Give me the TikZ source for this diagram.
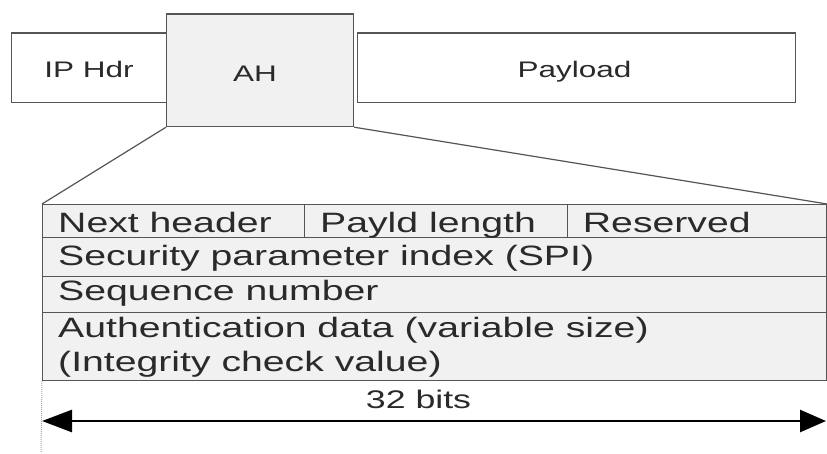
\documentclass[tikz,border=0pt]{standalone}
\usepackage{fontspec}
\setmainfont[FakeStretch=1.4]{Liberation Sans}
\usetikzlibrary{arrows.meta}
\definecolor{edge}{HTML}{555555}
\definecolor{cellfill}{HTML}{F1F1F1}
\definecolor{txt}{HTML}{2A2A2A}
\tikzset{
  box/.style={draw=edge, line width=1.2pt, rectangle, inner sep=0pt, anchor=north west},
  toplabel/.style={anchor=base, inner sep=0pt, text=txt, font=\fontsize{22.5}{26}\selectfont},
  celltext/.style={anchor=base west, inner sep=0pt, text=txt, align=left, font=\fontsize{28}{34}\selectfont},
  link/.style={draw=edge, line width=1.2pt},
}
\begin{document}
\begin{tikzpicture}[x=1pt,y=-1pt]
\useasboundingbox[fill=white] (0,0) rectangle (827,453);
% top packet
\node[box, fill=white, minimum width=155.3pt, minimum height=69.4pt] (ip) at (10.7,32.3) {};
\node[box, fill=white, minimum width=438pt, minimum height=69.4pt] (pl) at (357,32.3) {};
\node[box, fill=cellfill, minimum width=187pt, minimum height=112.7pt] (ah) at (166,13.3) {};
\node[toplabel] (iptxt) at (89,77) {IP Hdr};
\node[toplabel] (ahtxt) at (255,81) {AH};
\node[toplabel] (pltxt) at (574.5,77) {Payload};
% AH header table
\node[box, fill=cellfill, minimum width=262pt, minimum height=33pt] (nh) at (42,204) {};
\node[box, fill=cellfill, minimum width=262.7pt, minimum height=33pt] (plen) at (304,204) {};
\node[box, fill=cellfill, minimum width=259.3pt, minimum height=33pt] (res) at (566.7,204) {};
\node[box, fill=cellfill, minimum width=784pt, minimum height=39pt] (spi) at (42,237) {};
\node[box, fill=cellfill, minimum width=784pt, minimum height=36pt] (seq) at (42,276) {};
\node[box, fill=cellfill, minimum width=784pt, minimum height=68pt] (auth) at (42,312) {};
\node[celltext] (nhtxt) at (58,232) {Next header};
\node[celltext] (plentxt) at (320,232) {Payld length};
\node[celltext] (restxt) at (582.7,232) {Reserved};
\node[celltext] (spitxt) at (58,265) {Security parameter index (SPI)};
\node[celltext] (seqtxt) at (58,300) {Sequence number};
\node[celltext] (authtxt1) at (58,337) {Authentication data (variable size)};
\node[celltext] (authtxt2) at (58,371) {(Integrity check value)};
% expansion lines
\draw[link] (ah.south west) -- (nh.north west);
\draw[link] (ah.south east) -- (res.north east);
% width dimension
\coordinate (dimL) at (42,421);
\coordinate (dimR) at (826,421);
\coordinate (dotEnd) at (41,453);
\draw[gray!70, line width=1pt, densely dotted] (auth.south west) -- (dotEnd);
\draw[black, line width=2.6pt, {Triangle[length=30pt,width=22pt]}-{Triangle[length=26pt,width=22pt]}] (dimL) -- (dimR);
\node[toplabel, font=\fontsize{25.5}{30}\selectfont] (bits) at (418.5,408) {32 bits};
\end{tikzpicture}
\end{document}
